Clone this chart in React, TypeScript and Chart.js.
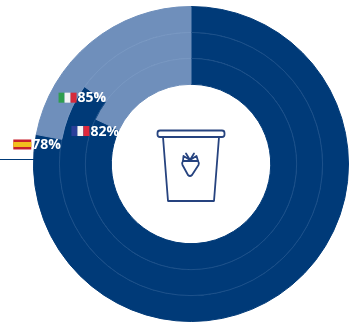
import React, { useEffect, useRef } from "react";
import { Chart, registerables } from "chart.js";

Chart.register(...registerables);

// Share of each country, outermost ring first
const countries = ["Spain", "Italy", "France"];
const shares = [78, 85, 82];
const flagColours = [
  ["#c8202c", "#f2c01e", "#c8202c"],
  ["#2f9e4f", "#f4f4f4", "#d6293a"],
  ["#2a3f9a", "#f4f4f4", "#e0283c"],
];
// Horizontal stripes for Spain, vertical for the other two
const flagHorizontal = [true, false, false];
const labelNudge = [
  [-4, 10],
  [-7, 11],
  [-5, 12],
];

const DARK = "#003a78";
const LIGHT = "#6f8fbb";
const WIDTH = 349;
const HEIGHT = 324;

const ringAnnotations = {
  id: "ringAnnotations",
  afterDatasetsDraw(chart: Chart) {
    const ctx = chart.ctx;
    ctx.save();
    // Hairlines between neighbouring rings
    shares.forEach((_, i) => {
      if (i === 0) return;
      const arc: any = chart.getDatasetMeta(i).data[0];
      ctx.beginPath();
      ctx.arc(arc.x, arc.y, arc.outerRadius, 0, Math.PI * 2);
      ctx.strokeStyle = "rgba(165,190,225,0.22)";
      ctx.lineWidth = 0.8;
      ctx.stroke();
    });
    // Flag and percentage at the end of each dark arc
    shares.forEach((value, i) => {
      const arc: any = chart.getDatasetMeta(i).data[0];
      const ex = arc.x + Math.cos(arc.endAngle) * arc.outerRadius;
      const ey = arc.y + Math.sin(arc.endAngle) * arc.outerRadius;
      const tx = ex + labelNudge[i][0];
      const ty = ey + labelNudge[i][1];
      const fw = 18;
      const fh = 10;
      const fx = tx - fw - 1;
      const fy = ty - fh / 2;
      const stripes = flagColours[i];
      if (flagHorizontal[i]) {
        ctx.fillStyle = stripes[0];
        ctx.fillRect(fx, fy, fw, fh);
        ctx.fillStyle = stripes[1];
        ctx.fillRect(fx, fy + fh / 4, fw, fh / 2);
      } else {
        stripes.forEach((colour, s) => {
          ctx.fillStyle = colour;
          ctx.fillRect(fx + (s * fw) / 3, fy, fw / 3, fh);
        });
      }
      ctx.fillStyle = "#ffffff";
      ctx.font = '700 14px "Open Sans"';
      ctx.textAlign = "left";
      ctx.textBaseline = "middle";
      ctx.fillText(`${value}%`, tx, ty + 0.5);
    });
    ctx.restore();
  },
};

export default function App() {
  const canvasRef = useRef<HTMLCanvasElement>(null);

  useEffect(() => {
    const chart = new Chart(canvasRef.current!, {
      type: "doughnut",
      data: {
        labels: countries,
        datasets: shares.map((value) => ({
          data: [value, 100 - value],
          backgroundColor: [DARK, LIGHT],
          // Same-colour borders close the antialiasing seams between rings
          borderColor: [DARK, LIGHT],
          borderWidth: 1,
        })),
      },
      options: {
        responsive: false,
        animation: false,
        cutout: "50.6%",
        layout: { padding: { left: 33, right: 0, top: 6, bottom: 2 } },
        plugins: { legend: { display: false }, tooltip: { enabled: false } },
      },
      plugins: [ringAnnotations],
    });
    return () => chart.destroy();
  }, []);

  return (
    <div style={{ position: "absolute", left: 0, top: 0, width: WIDTH, height: HEIGHT, background: "#fff" }}>
      <canvas
        ref={canvasRef}
        width={WIDTH}
        height={HEIGHT}
        style={{ position: "absolute", left: 0, top: 0, display: "block" }}
      />
      <svg
        width={WIDTH}
        height={HEIGHT}
        style={{ position: "absolute", left: 0, top: 0 }}
        fill="none"
        stroke="#26437f"
        strokeWidth={1.8}
        strokeLinejoin="round"
        strokeLinecap="round"
      >
        {/* Leader line running into the outer ring */}
        <line x1={0} y1={159.5} x2={37} y2={159.5} stroke={DARK} strokeWidth={1} strokeLinecap="butt" />
        {/* Yoghurt pot */}
        <rect x={157.5} y={130.5} width={67} height={6.5} rx={2.5} />
        <path d="M163 137 L168 201 L214 201 L219 137" />
        {/* Strawberry */}
        <path d="M183 161 L198 161 Q199.5 163 198.5 165 L192 175 Q190 177 188 175 L182.5 165 Q181.5 163 183 161 Z" />
        <path d="M183 161 L183.5 156 L190 160 L196.5 156 L198 161 M186 153.5 L190 160 L194 153.5" />
      </svg>
    </div>
  );
}
